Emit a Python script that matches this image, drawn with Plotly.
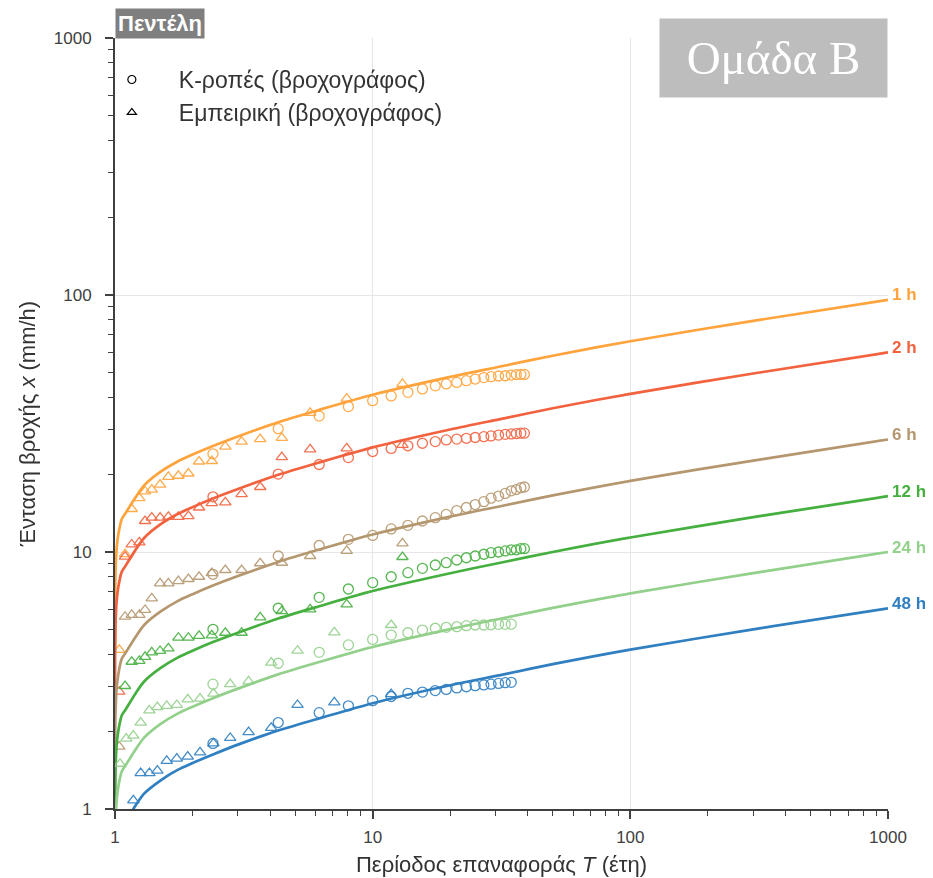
import math
import plotly.graph_objects as go

# ---------------- data ----------------
durations = ["1 h", "2 h", "6 h", "12 h", "24 h", "48 h"]
colors = ["#FFA33C", "#F2623F", "#B5976F", "#45AF3F", "#93D08B", "#2F7FC1"]

# fitted IDF curves (return period T, intensity mm/h)
T_curve = [1.0001, 1.001, 1.005, 1.015, 1.03, 1.062, 1.1, 1.2, 1.3, 1.5, 1.75, 2.0,
           2.4, 3.0, 4.3, 6.2, 10, 20, 31.3, 50, 100, 300, 1000]
curve_1h = [4.12, 6.32, 8.43, 10.35, 11.69, 13.41, 14.18, 16.29, 18.20, 20.50, 22.51, 23.95,
            25.87, 28.17, 32.00, 35.73, 40.91, 48.00, 52.69, 58.05, 66.10, 79.32, 95.8]
curve_2h = [2.57, 3.95, 5.26, 6.46, 7.30, 8.37, 8.85, 10.17, 11.36, 12.80, 14.05, 14.95,
            16.15, 17.58, 19.97, 22.31, 25.53, 29.96, 32.89, 36.24, 41.26, 49.51, 59.8]
curve_6h = [1.18, 1.81, 2.41, 2.96, 3.34, 3.84, 4.06, 4.66, 5.21, 5.86, 6.44, 6.85,
            7.40, 8.06, 9.15, 10.22, 11.70, 13.73, 15.07, 16.60, 18.91, 22.69, 27.4]
curve_12h = [0.71, 1.09, 1.45, 1.78, 2.01, 2.31, 2.44, 2.81, 3.14, 3.53, 3.88, 4.13,
             4.46, 4.85, 5.51, 6.15, 7.05, 8.27, 9.08, 10.0, 11.39, 13.66, 16.5]
curve_24h = [0.43, 0.66, 0.88, 1.08, 1.22, 1.40, 1.48, 1.70, 1.90, 2.14, 2.35, 2.50,
             2.70, 2.94, 3.34, 3.73, 4.27, 5.01, 5.50, 6.06, 6.90, 8.28, 10.0]
curve_48h = [0.26, 0.40, 0.53, 0.65, 0.74, 0.85, 0.89, 1.03, 1.15, 1.29, 1.42, 1.51,
             1.63, 1.78, 2.02, 2.25, 2.58, 3.03, 3.32, 3.66, 4.17, 5.00, 6.04]

# empirical points (triangles)
T_emp_A = [1.039, 1.094, 1.161, 1.243, 1.308, 1.389, 1.496, 1.611, 1.762, 1.927,
           2.12, 2.375, 2.68, 3.1, 3.66, 4.44, 5.72, 7.93, 13.05]
emp_1h = [4.16, 9.82, 14.7, 16.2, 17.2, 17.5, 18.3, 19.6, 19.8, 20.2,
          22.5, 22.6, 25.7, 26.9, 27.5, 27.8, 34.8, 39.5, 45.1]
emp_2h = [2.86, 9.59, 10.7, 10.9, 13.2, 13.6, 13.6, 13.7, 13.7, 13.8,
          14.9, 15.5, 15.6, 16.8, 17.9, 23.4, 25.1, 25.3, 26.1]
emp_6h = [1.75, 5.60, 5.69, 5.69, 5.95, 6.60, 7.55, 7.55, 7.71, 7.85,
          8.01, 8.28, 8.51, 8.51, 9.04, 9.08, 9.65, 10.1, 10.8]
emp_12h = [None, 3.01, 3.74, 3.77, 3.91, 4.07, 4.12, 4.22, 4.64, 4.64,
           4.72, 4.74, 4.85, 4.85, 5.57, 5.89, 5.98, 6.25, 9.56]
T_emp_B = [1.046, 1.106, 1.178, 1.258, 1.36, 1.46, 1.588, 1.737, 1.916, 2.138,
           2.41, 2.80, 3.30, 4.04, 5.11, 7.1, 11.8]
emp_24h = [1.50, 1.88, 1.93, 2.17, 2.42, 2.49, 2.52, 2.54, 2.67, 2.69,
           2.81, 3.06, 3.14, 3.71, 4.13, 4.87, 5.20]
emp_48h = [None, None, 1.08, 1.38, 1.38, 1.41, 1.54, 1.57, 1.60, 1.66,
           1.80, 1.89, 1.99, 2.07, 2.54, 2.60, 2.80]

# K-moments points (circles)
T_k_A = [2.4, 4.3, 6.2, 8.05, 10.0, 11.8, 13.7, 15.6, 17.5, 19.3, 21.2,
         23.1, 25.0, 27.0, 28.8, 30.8, 32.7, 34.5, 36.1, 37.6, 38.8]
k_1h = [24.1, 30.2, 33.8, 36.8, 38.8, 40.5, 41.8, 43.1, 44.3, 45.1, 45.7,
        46.4, 47.1, 47.7, 48.1, 48.4, 48.5, 48.8, 49.0, 49.1, 49.1]
k_2h = [16.4, 20.1, 21.9, 23.3, 24.6, 25.3, 25.9, 26.5, 26.9, 27.3, 27.5,
        27.7, 27.9, 28.1, 28.3, 28.5, 28.7, 28.8, 28.9, 29.0, 29.0]
k_6h = [8.19, 9.65, 10.6, 11.2, 11.6, 12.3, 12.7, 13.2, 13.6, 14.0, 14.5,
        14.9, 15.3, 15.7, 16.2, 16.5, 16.9, 17.3, 17.5, 17.8, 17.9]
k_12h = [5.00, 6.04, 6.66, 7.18, 7.60, 8.01, 8.31, 8.64, 8.90, 9.09, 9.31,
         9.50, 9.65, 9.80, 9.94, 10.0, 10.1, 10.2, 10.2, 10.3, 10.3]
T_k_B = [2.4, 4.3, 6.2, 8.05, 10.0, 11.8, 13.7, 15.6, 17.5, 19.3, 21.2,
         23.1, 25.0, 27.0, 28.8, 30.8, 32.7, 34.5]
k_24h = [3.06, 3.69, 4.07, 4.35, 4.57, 4.75, 4.85, 4.97, 5.05, 5.09, 5.12,
         5.17, 5.20, 5.20, 5.21, 5.23, 5.23, 5.24]
k_48h = [1.80, 2.17, 2.37, 2.52, 2.64, 2.74, 2.82, 2.85, 2.89, 2.92, 2.96,
         2.99, 3.02, 3.04, 3.06, 3.08, 3.10, 3.11]

major_ticks = [1, 10, 100, 1000]
minor_ticks = [2, 3, 4, 5, 6, 7, 8, 9, 20, 30, 40, 50, 60, 70, 80, 90,
               200, 300, 400, 500, 600, 700, 800, 900]

curves = [curve_1h, curve_2h, curve_6h, curve_12h, curve_24h, curve_48h]
emp_T = [T_emp_A, T_emp_A, T_emp_A, T_emp_A, T_emp_B, T_emp_B]
emps = [emp_1h, emp_2h, emp_6h, emp_12h, emp_24h, emp_48h]
k_T = [T_k_A, T_k_A, T_k_A, T_k_A, T_k_B, T_k_B]
ks = [k_1h, k_2h, k_6h, k_12h, k_24h, k_48h]

FONT = "Liberation Sans, Arial, sans-serif"
AX = "#404040"
TXT = "#333333"

fig = go.Figure()
for i, d in enumerate(durations):
    c = colors[i]
    fig.add_trace(go.Scatter(x=T_curve, y=curves[i], mode="lines",
                             line=dict(color=c, width=2.7, shape="spline", smoothing=0.8),
                             showlegend=False, name=d))
    fig.add_trace(go.Scatter(x=k_T[i], y=ks[i], mode="markers", showlegend=False,
                             marker=dict(symbol="circle-open", size=10, color=c,
                                         line=dict(width=1.3, color=c)), opacity=0.9))
    fig.add_trace(go.Scatter(x=emp_T[i], y=emps[i], mode="markers", showlegend=False,
                             marker=dict(symbol="triangle-up-open", size=10, color=c,
                                         line=dict(width=1.3, color=c)), opacity=0.9))

# legend entries
fig.add_trace(go.Scatter(x=[None], y=[None], mode="markers", name="Κ-ροπές (βροχογράφος)",
                         marker=dict(symbol="circle-open", size=8, color="black",
                                     line=dict(width=1.2, color="black"))))
fig.add_trace(go.Scatter(x=[None], y=[None], mode="markers", name="Εμπειρική (βροχογράφος)",
                         marker=dict(symbol="triangle-up-open", size=8, color="black",
                                     line=dict(width=1.2, color="black"))))

annotations = []
for i, d in enumerate(durations):
    annotations.append(dict(x=3, y=math.log10(curves[i][-1]), xref="x", yref="y",
                            text="<b>%s</b>" % d, showarrow=False, xanchor="left",
                            yanchor="middle", xshift=2, yshift=5,
                            font=dict(family=FONT, size=17, color=colors[i])))
annotations.append(dict(x=0, y=(809 - 8) / 771, xref="paper", yref="paper",
                        text="<b>Πεντέλη</b>", showarrow=False, xanchor="left", yanchor="top",
                        bgcolor="#7F7F7F", borderpad=2,
                        font=dict(family=FONT, size=22, color="white")))
annotations.append(dict(x=1, y=(809 - 18) / 771, xref="paper", yref="paper",
                        text="Ομάδα Β", showarrow=False, xanchor="right", yanchor="top",
                        bgcolor="#BDBDBD", width=223, height=74, borderpad=2, align="center",
                        font=dict(family="Liberation Serif, Times New Roman, serif", size=47,
                                  color="white")))

axis_common = dict(type="log", range=[0, 3], showgrid=True, gridcolor="#E6E6E6", gridwidth=1,
                   showline=True, linecolor=AX, linewidth=2, ticks="outside", ticklen=8,
                   tickwidth=1.5, tickcolor=AX, zeroline=False, automargin=False,
                   tickmode="array", tickvals=major_ticks,
                   ticktext=[str(v) for v in major_ticks],
                   tickfont=dict(family=FONT, size=17, color=AX),
                   minor=dict(ticks="outside", ticklen=5, tickwidth=1, tickcolor=AX,
                              showgrid=False, tickmode="array", tickvals=minor_ticks))

fig.update_layout(
    width=925, height=870,
    margin=dict(l=107, r=45, t=30, b=69),
    paper_bgcolor="white", plot_bgcolor="white",
    font=dict(family=FONT, color=TXT),
    xaxis=dict(axis_common, ticklabelstandoff=4,
               title=dict(text="Περίοδος επαναφοράς <i>T</i> (έτη)",
                          font=dict(family=FONT, size=22, color=TXT), standoff=10)),
    yaxis=dict(axis_common, ticklabelstandoff=10,
               title=dict(text="Ένταση βροχής <i>x</i> (mm/h)",
                          font=dict(family=FONT, size=22, color=TXT), standoff=12)),
    legend=dict(x=-0.039, y=0.974, xanchor="left", yanchor="top", bgcolor="rgba(0,0,0,0)",
                font=dict(family=FONT, size=23, color=TXT), itemwidth=84,
                tracegroupgap=0),
    annotations=annotations,
)

fig.write_html("out.html")
